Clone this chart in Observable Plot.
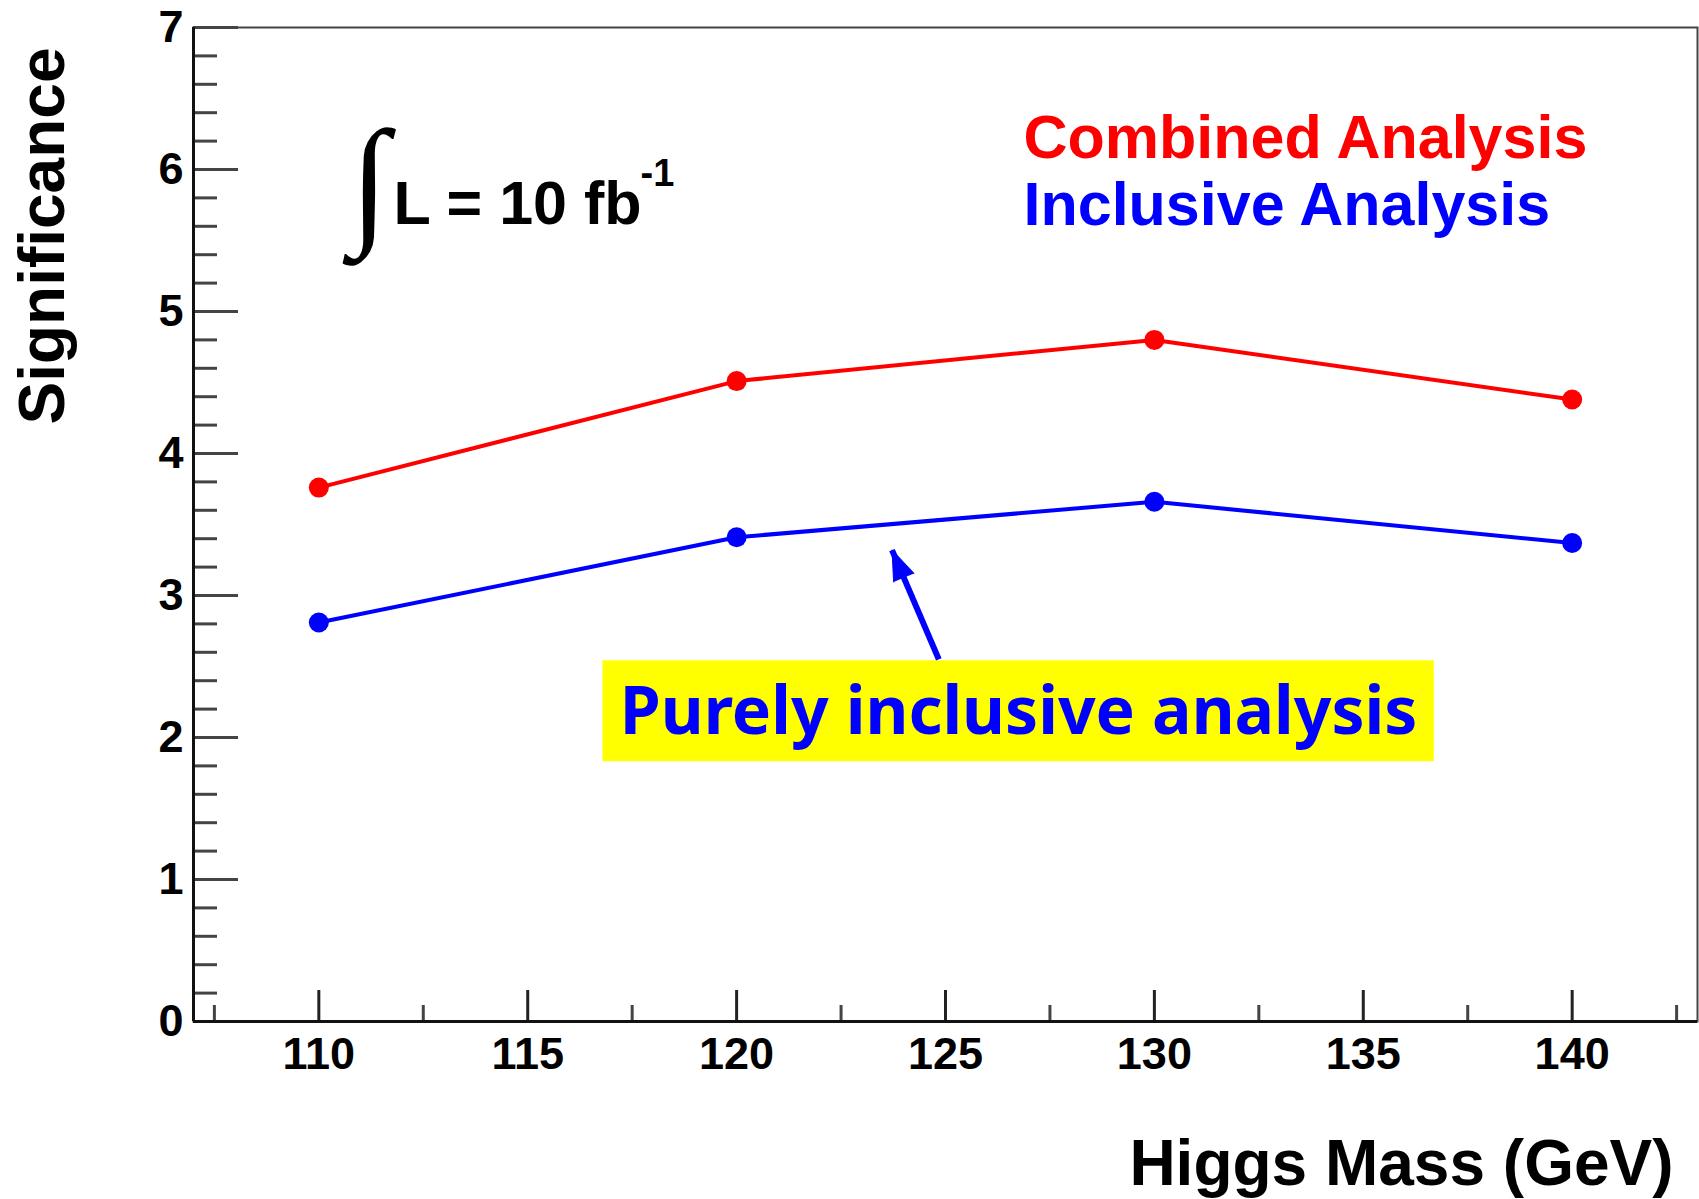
<!DOCTYPE html>
<html>
<head>
<meta charset="utf-8">
<script src="https://cdn.jsdelivr.net/npm/d3@7"></script>
<script src="https://cdn.jsdelivr.net/npm/@observablehq/plot@0.6"></script>
<style>
  body { margin: 0; background: #ffffff; }
  #chart svg { display: block; }
</style>
</head>
<body>
<div id="chart"></div>
<script>
// ---- data ----
const masses = [110, 120, 130, 140];
const combined = [3.76, 4.51, 4.80, 4.38];
const inclusive = [2.81, 3.41, 3.66, 3.37];
const seriesNames = ["Combined Analysis", "Inclusive Analysis"];
const seriesColors = ["#ff0000", "#0000ff"];

// ---- axes ----
const xDomain = [107, 143];
const yDomain = [0, 7];
const xMajorTicks = [110, 115, 120, 125, 130, 135, 140];
const xMinorTicks = [107.5, 112.5, 117.5, 122.5, 127.5, 132.5, 137.5, 142.5];
const yMajorTicks = [0, 1, 2, 3, 4, 5, 6, 7];
const yMinorTicks = d3.range(1, 35).map(i => i / 5).filter(v => !Number.isInteger(v));

const xTitle = ["Higgs Mass (GeV)"];
const yTitle = ["Significance"];
const lumiText = ["L = 10 fb"];
const lumiExp = ["-1"];
const integralSign = ["\u222B"];
const noteText = ["Purely inclusive analysis"];
// annotation geometry in data units
const noteBox = [{x1: 116.8, x2: 136.7, y1: 1.83, y2: 2.54}];
const noteArrow = [{x1: 124.84, y1: 2.55, x2: 123.72, y2: 3.32}];

const rows = masses.flatMap((m, i) => [
  {mass: m, sig: combined[i], series: seriesNames[0]},
  {mass: m, sig: inclusive[i], series: seriesNames[1]}
]);

const tickFont = {fontSize: 45, fontWeight: "bold", fontFamily: "'Liberation Sans', Arial, sans-serif"};
const blank = () => "";
const plain = d => String(d);

const chart = Plot.plot({
  width: 1699,
  height: 1199,
  marginLeft: 193,
  marginRight: 2,
  marginTop: 27,
  marginBottom: 178,
  x: {domain: xDomain},
  y: {domain: yDomain},
  color: {domain: seriesNames, range: seriesColors},
  style: {background: "#ffffff", color: "#000000", fontFamily: "'Liberation Sans', Arial, sans-serif", overflow: "visible"},
  marks: [
    // yellow note box
    Plot.rect(noteBox, {x1: "x1", x2: "x2", y1: "y1", y2: "y2", fill: "#ffff00"}),
    Plot.text(noteText, {
      x: () => (noteBox[0].x1 + noteBox[0].x2) / 2,
      y: () => (noteBox[0].y1 + noteBox[0].y2) / 2,
      text: d => d, fill: "#0000ff", fontSize: 66, fontWeight: "bold",
      fontFamily: "'Comic Sans MS', 'Noto Sans', sans-serif", textAnchor: "middle", lineAnchor: "middle", dy: 2
    }),
    // arrow: shaft + filled head
    Plot.link(noteArrow, {x1: "x1", y1: "y1", x2: "x2", y2: "y2", stroke: "#0000ff", strokeWidth: 6}),
    Plot.vector(noteArrow, {x: "x2", y: "y2", anchor: "end", shape: "spike", length: 30, r: 11, rotate: -23,
      fill: "#0000ff", stroke: "#0000ff", strokeWidth: 1}),

    // ticks (inward, ROOT style)
    Plot.axisY(yMinorTicks, {tickSize: -24, tickFormat: blank, stroke: "#444", strokeWidth: 3, label: null}),
    Plot.axisY(yMajorTicks, {tickSize: -45, tickPadding: 55, tickFormat: plain, stroke: "#444", strokeWidth: 3, label: null, ...tickFont}),
    Plot.axisX(xMinorTicks, {tickSize: -16, tickFormat: blank, stroke: "#444", strokeWidth: 3, label: null}),
    Plot.axisX(xMajorTicks, {tickSize: -31, tickPadding: 47, tickFormat: plain, stroke: "#222", strokeWidth: 3, label: null, ...tickFont}),

    // frame
    Plot.frame({stroke: "#444", strokeWidth: 2}),
    Plot.ruleX([xDomain[0]], {stroke: "#111", strokeWidth: 3}),
    Plot.ruleY([yDomain[0]], {stroke: "#111", strokeWidth: 3}),

    // data
    Plot.line(rows, {x: "mass", y: "sig", z: "series", stroke: "series", strokeWidth: 4}),
    Plot.dot(rows, {x: "mass", y: "sig", fill: "series", r: 10}),

    // legend texts
    Plot.text([seriesNames[0]], {frameAnchor: "top-left", text: d => d, dx: 830, dy: 130, textAnchor: "start", lineAnchor: "bottom",
      fill: seriesColors[0], fontSize: 61, fontWeight: "bold"}),
    Plot.text([seriesNames[1]], {frameAnchor: "top-left", text: d => d, dx: 830, dy: 197, textAnchor: "start", lineAnchor: "bottom",
      fill: seriesColors[1], fontSize: 61, fontWeight: "bold"}),

    // luminosity annotation
    Plot.text(integralSign, {frameAnchor: "top-left", text: d => d, dx: 176, dy: 155, textAnchor: "middle", lineAnchor: "middle",
      fontSize: 141, fontFamily: "'Liberation Serif', 'DejaVu Serif', serif", fontWeight: "normal", fill: "#000"}),
    Plot.text(lumiText, {frameAnchor: "top-left", text: d => d, dx: 200, dy: 196, textAnchor: "start", lineAnchor: "bottom",
      fontSize: 61, fontWeight: "bold", fill: "#000"}),
    Plot.text(lumiExp, {frameAnchor: "top-left", text: d => d, dx: 447, dy: 158, textAnchor: "start", lineAnchor: "bottom",
      fontSize: 38, fontWeight: "bold", fill: "#000"}),

    // axis titles
    Plot.text(yTitle, {frameAnchor: "top-left", text: d => d, rotate: -90, dx: -130, dy: 20, textAnchor: "end", lineAnchor: "bottom",
      fontSize: 64, fontWeight: "bold", fill: "#000"}),
    Plot.text(xTitle, {frameAnchor: "bottom-right", text: d => d, dx: -24, dy: 163, textAnchor: "end", lineAnchor: "bottom",
      fontSize: 64, fontWeight: "bold", fill: "#000"})
  ]
});

document.getElementById("chart").appendChild(chart);
</script>
</body>
</html>
